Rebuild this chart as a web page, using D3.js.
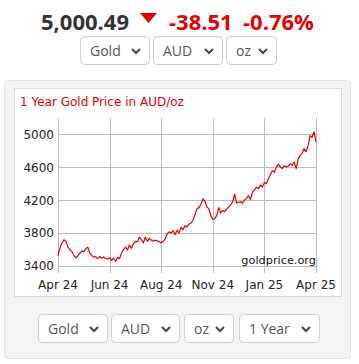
<!DOCTYPE html>
<html><head><meta charset="utf-8">
<script src="https://cdn.jsdelivr.net/npm/d3@7/dist/d3.min.js"></script>
<style>html,body{margin:0;padding:0;background:#fff;}svg{display:block;}</style>
</head><body>
<svg id="c" width="359" height="364"></svg>
<script>
// ---- data ----
const headerPrice = "5,000.49";
const headerChange = "-38.51";
const headerPct = "-0.76%";
const chartTitle = "1 Year Gold Price in AUD/oz";
const xTickLabels = ["Apr 24", "Jun 24", "Aug 24", "Nov 24", "Jan 25", "Apr 25"];
const yTicks = [3400, 3800, 4200, 4600, 5000];
const prices = [
  3530,3620,3680,3720,3700,3630,3600,3575,3530,3500,3525,3555,3580,3575,3610,3630,
  3555,3530,3505,3515,3490,3515,3495,3510,3490,3485,3500,3470,3495,3455,3505,3490,
  3560,3600,3630,3595,3655,3615,3670,3700,3695,3750,3720,3680,3750,3700,3735,3715,
  3700,3715,3705,3695,3680,3700,3730,3790,3815,3800,3830,3780,3835,3800,3870,3840,
  3890,3875,3910,3920,3960,4020,4095,4110,4150,4215,4190,4120,4095,4010,3965,3975,
  4015,4110,4045,4075,4060,4095,4120,4145,4180,4275,4165,4175,4180,4165,4205,4220,
  4255,4210,4300,4325,4360,4340,4385,4360,4415,4400,4460,4510,4560,4540,4600,4640,
  4605,4585,4620,4605,4615,4645,4625,4665,4585,4700,4745,4770,4825,4790,4860,4985,
  4965,5030,4910
];
const topSelects = ["Gold", "AUD", "oz"];
const bottomSelects = ["Gold", "AUD", "oz", "1 Year"];

(function () {
const RED = "#e60000";
const svg = d3.select("#c");

// ---- header ----
const hdr = svg.append("g").attr("font-family", "'Open Sans', sans-serif").attr("font-weight", 700).attr("font-size", 22);
hdr.append("text").attr("x", 41).attr("y", 29.5).attr("fill", "#333").text(headerPrice);
hdr.append("path").attr("d", "M140,13 L157,13 L148.5,23 Z").attr("fill", RED);
hdr.append("text").attr("x", 169).attr("y", 29.5).attr("fill", RED).text(headerChange);
hdr.append("text").attr("x", 243).attr("y", 29.5).attr("fill", RED).text(headerPct);

// ---- select boxes ----
function drawSelects(items, boxes, yy) {
  const g = svg.append("g");
  items.forEach((t, i) => {
    const b = boxes[i];
    g.append("rect").attr("x", b[0] + 0.5).attr("y", yy + 0.5).attr("width", b[1] - b[0]).attr("height", 28)
      .attr("rx", 4).attr("fill", "#fff").attr("stroke", "#cfcfcf");
    g.append("text").attr("x", b[0] + 10).attr("y", yy + 19.5).attr("font-family", "'Open Sans', sans-serif")
      .attr("font-size", 14).attr("fill", "#555").text(t);
    const cx = b[1] - 13;
    g.append("path").attr("d", `M${cx - 4},${yy + 13} L${cx},${yy + 17} L${cx + 4},${yy + 13}`)
      .attr("fill", "none").attr("stroke", "#444").attr("stroke-width", 2);
  });
}
drawSelects(topSelects, [[80, 149], [153, 222], [226, 276]], 36);

// ---- panel ----
svg.append("rect").attr("x", 4.5).attr("y", 80.5).attr("width", 346).attr("height", 278).attr("rx", 4)
  .attr("fill", "#f4f4f4").attr("stroke", "#e4e4e4");
svg.append("rect").attr("x", 14.5).attr("y", 88.5).attr("width", 327).attr("height", 208)
  .attr("fill", "#fff").attr("stroke", "#dcdcdc");

svg.append("text").attr("x", 20).attr("y", 106).attr("font-family", "'DejaVu Sans', Verdana, sans-serif")
  .attr("font-size", 12).attr("fill", RED).text(chartTitle);

// ---- chart ----
const pLeft = 58, pRight = 316, pTop = 118, pBottom = 266;
const x = d3.scaleLinear().domain([0, prices.length - 1]).range([pLeft, pRight]);
const y = d3.scaleLinear().domain([3400, 5200]).range([pBottom, pTop]);
const xTickVals = xTickLabels.map((d, i) => i * (prices.length - 1) / (xTickLabels.length - 1));

const grid = svg.append("g").attr("stroke", "#bdbdbd").attr("stroke-width", 1).attr("shape-rendering", "crispEdges");
grid.selectAll("line.v").data(xTickVals).join("line")
  .attr("x1", d => Math.round(x(d)) + 0.5).attr("x2", d => Math.round(x(d)) + 0.5)
  .attr("y1", pTop).attr("y2", pBottom + 7);
grid.selectAll("line.h").data(yTicks).join("line")
  .attr("x1", pLeft).attr("x2", pRight + 1)
  .attr("y1", d => Math.round(y(d)) + 0.5).attr("y2", d => Math.round(y(d)) + 0.5);

const font = "'DejaVu Sans', Verdana, sans-serif";
svg.append("g").selectAll("text").data(yTicks).join("text")
  .attr("x", 54).attr("y", d => y(d)).attr("dy", "0.36em").attr("text-anchor", "end")
  .attr("font-family", font).attr("font-size", 12).attr("fill", "#222").text(d => d);

svg.append("g").selectAll("text").data(xTickVals).join("text")
  .attr("x", d => x(d)).attr("y", 288.5).attr("text-anchor", "middle")
  .attr("font-family", font).attr("font-size", 12).attr("fill", "#222")
  .text((d, i) => xTickLabels[i]);

svg.append("path").datum(prices)
  .attr("d", d3.line().x((d, i) => x(i)).y(d => y(d)))
  .attr("fill", "none").attr("stroke", RED).attr("stroke-width", 1.2).attr("stroke-linejoin", "round");

svg.append("text").attr("x", pRight).attr("y", 263.5).attr("text-anchor", "end")
  .attr("font-family", font).attr("font-size", 11.3).attr("fill", "#111").text("goldprice.org");

drawSelects(bottomSelects, [[38, 107], [111, 179], [184, 233], [239, 319]], 314);
})();
</script>
</body></html>
